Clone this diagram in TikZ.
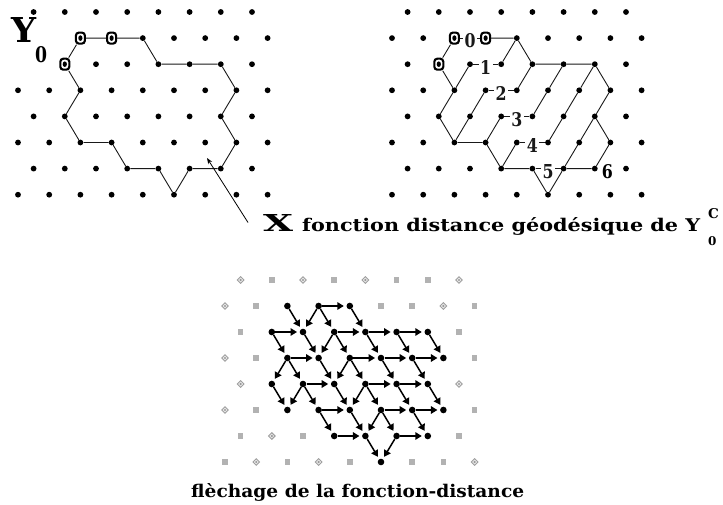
\documentclass[tikz,border=0pt]{standalone}
\usepackage{fontspec}
\setmainfont{DejaVu Serif}
\usepackage{graphicx}
\usetikzlibrary{arrows.meta,shapes.geometric}
\tikzset{
 dot/.style={circle, fill=black, inner sep=0pt, minimum size=5.8pt},
 bdot/.style={circle, fill=black, inner sep=0pt, minimum size=6.6pt},
 seed/.style={rectangle, rounded corners=3pt, draw=black, line width=2.1pt, fill=white, inner sep=0pt, minimum width=9pt, minimum height=11pt,
   path picture={\fill[black] (path picture bounding box.center) ellipse (2.1pt and 2.8pt);}},
 ptA/.style={diamond, draw=gray!75, line width=0.9pt, fill=gray!15, inner sep=0pt, minimum size=7pt,
   path picture={\fill[gray!80] (path picture bounding box.center) circle (1.2pt);}},
 ptB/.style={rectangle, fill=gray!60, inner sep=0pt, minimum size=5.5pt},
 edgeline/.style={line width=0.9pt, black!90},
 arr/.style={line width=1.5pt, -{Triangle[length=6.5pt,width=7.5pt]}, shorten >=2.5pt},
 lbl/.style={fill=white, inner xsep=1.5pt, inner ysep=0pt, yshift=-3pt},
}
\newcommand\dg[1]{\resizebox{11pt}{14pt}{\bfseries #1}}
\begin{document}
\begin{tikzpicture}[x=1pt,y=-1pt]
\useasboundingbox (0,0) rectangle (723,505);
% ---------------- panel 1 ----------------
\foreach \r in {0,2,4,6}{\foreach \c in {1,3,...,15}{
  \pgfmathtruncatemacro\hid{(\r==2)*(\c<4)}
  \ifnum\hid=0 \node[dot] (a-\r-\c) at ({18+15.6*\c},{12+26.1*\r}) {};\fi}}
\foreach \r in {1,3,5,7}{\foreach \c in {0,2,...,16}{
  \pgfmathtruncatemacro\hid{(\r==1)*(\c<7)}
  \ifnum\hid=0 \node[dot] (a-\r-\c) at ({18+15.6*\c},{12+26.1*\r}) {};\fi}}
\node[seed] (a-1-4) at ({18+15.6*4},{12+26.1}) {};
\node[seed] (a-1-6) at ({18+15.6*6},{12+26.1}) {};
\node[seed] (a-2-3) at ({18+15.6*3},{12+26.1*2}) {};
\draw[edgeline] (a-2-3) -- (a-1-4) -- (a-1-6) -- (a-1-8) -- (a-2-9) -- (a-2-11) -- (a-2-13)
  -- (a-3-14) -- (a-4-13) -- (a-5-14) -- (a-6-13) -- (a-6-11) -- (a-7-10) -- (a-6-9)
  -- (a-6-7) -- (a-5-6) -- (a-5-4) -- (a-4-3) -- (a-3-4) -- (a-2-3);
\node[anchor=base, inner sep=0pt] (ylab) at (24.5,43) {\resizebox{25pt}{25pt}{\bfseries Y}};
\node[anchor=base west, inner sep=0pt] (y0lab) at (35,63) {\resizebox{12pt}{16pt}{\bfseries 0}};
\node[anchor=base west, inner sep=0pt] (xlab) at (263,232) {\resizebox{30pt}{17pt}{\bfseries X}};
\coordinate (xtail) at (248,222.5);
\coordinate (xtip) at (207,158);
\draw[line width=0.8pt, -{Stealth[length=6pt,width=4.5pt]}] (xtail) -- (xtip);
% ---------------- panel 2 ----------------
\foreach \r in {0,2,4,6}{\foreach \c in {1,3,...,15}{
  \pgfmathtruncatemacro\hid{(\r==2)*(\c==3)}
  \ifnum\hid=0 \node[dot] (b-\r-\c) at ({392+15.6*\c},{12+26.1*\r}) {};\fi}}
\foreach \r in {1,3,5,7}{\foreach \c in {0,2,...,16}{
  \pgfmathtruncatemacro\hid{(\r==1)*((\c==4)+(\c==6))}
  \ifnum\hid=0 \node[dot] (b-\r-\c) at ({392+15.6*\c},{12+26.1*\r}) {};\fi}}
\node[seed] (b-1-4) at ({392+15.6*4},{12+26.1}) {};
\node[seed] (b-1-6) at ({392+15.6*6},{12+26.1}) {};
\node[seed] (b-2-3) at ({392+15.6*3},{12+26.1*2}) {};
\draw[edgeline] (b-2-3) -- (b-1-4);
\draw[edgeline] (b-1-6) -- (b-1-8) -- (b-2-9) -- (b-2-11) -- (b-2-13)
  -- (b-3-14) -- (b-4-13) -- (b-5-14) -- (b-6-13) -- (b-6-11) -- (b-7-10) -- (b-6-9)
  -- (b-6-7) -- (b-5-6) -- (b-5-4) -- (b-4-3) -- (b-3-4) -- (b-2-3);
\draw[edgeline] (b-1-4) -- node[lbl] (l0) {\dg{0}} (b-1-6);
\draw[edgeline] (b-1-8) -- (b-2-7);
\draw[edgeline] (b-2-5) -- node[lbl] (l1) {\dg{1}} (b-2-7);
\draw[edgeline] (b-2-5) -- (b-3-4);
\draw[edgeline] (b-2-9) -- (b-3-8);
\draw[edgeline] (b-3-6) -- node[lbl] (l2) {\dg{2}} (b-3-8);
\draw[edgeline] (b-3-6) -- (b-4-5) -- (b-5-4);
\draw[edgeline] (b-2-11) -- (b-3-10) -- (b-4-9);
\draw[edgeline] (b-4-7) -- node[lbl] (l3) {\dg{3}} (b-4-9);
\draw[edgeline] (b-4-7) -- (b-5-6);
\draw[edgeline] (b-2-13) -- (b-3-12) -- (b-4-11) -- (b-5-10);
\draw[edgeline] (b-5-8) -- node[lbl] (l4) {\dg{4}} (b-5-10);
\draw[edgeline] (b-5-8) -- (b-6-7);
\draw[edgeline] (b-4-13) -- (b-5-12) -- (b-6-11);
\draw[edgeline] (b-6-9) -- node[lbl] (l5) {\dg{5}} (b-6-11);
\node[lbl] (l6) at ({392+15.6*13.8},{12+26.1*6}) {\dg{6}};
\node[anchor=base west, inner sep=0pt] (cap1) at (302,232)
  {\fontsize{17.5}{20}\selectfont\bfseries\resizebox{398pt}{\height}{fonction distance géodésique de Y}};
\node[anchor=base west, inner sep=0pt] (capC) at (708,219) {\fontsize{13.5}{14}\selectfont\bfseries C};
\node[anchor=base west, inner sep=0pt] (cap0) at (708,246) {\fontsize{12}{13}\selectfont\bfseries 0};
% ---------------- panel 3 ----------------
\foreach \r/\c/\t in {0/1/A,0/3/B,0/5/A,0/7/B,0/9/A,0/11/B,0/13/B,0/15/A,
  1/0/A,1/2/B,1/10/B,1/12/B,1/14/A,1/16/B,
  2/1/B,2/15/B,
  3/0/A,3/2/B,3/16/B,
  4/1/A,4/15/A,
  5/0/A,5/2/B,5/16/B,
  6/1/B,6/3/A,6/5/B,6/15/B,
  7/0/B,7/2/A,7/4/B,7/6/A,7/8/B,7/12/B,7/14/B,7/16/A}
  {\node[pt\t] (p-\r-\c) at ({225+15.6*\c},{280+26*\r}) {};}
\foreach \r/\c in {1/4,1/6,1/8,
  2/3,2/5,2/7,2/9,2/11,2/13,
  3/4,3/6,3/8,3/10,3/12,3/14,
  4/3,4/5,4/7,4/9,4/11,4/13,
  5/4,5/6,5/8,5/10,5/12,5/14,
  6/7,6/9,6/11,6/13,
  7/10}
  {\node[bdot] (p-\r-\c) at ({225+15.6*\c},{280+26*\r}) {};}
\foreach \s/\t in {1-4/2-5,1-6/1-8,1-6/2-5,1-6/2-7,1-8/2-9,
  2-3/2-5,2-3/3-4,2-5/3-6,2-7/2-9,2-7/3-6,2-7/3-8,2-9/2-11,2-9/3-10,2-11/2-13,2-11/3-12,2-13/3-14,
  3-4/3-6,3-4/4-3,3-4/4-5,3-6/4-7,3-8/3-10,3-8/4-7,3-8/4-9,3-10/3-12,3-10/4-11,3-12/3-14,3-12/4-13,
  4-3/5-4,4-5/4-7,4-5/5-4,4-5/5-6,4-7/5-8,4-9/4-11,4-9/5-8,4-9/5-10,4-11/4-13,4-11/5-12,4-13/5-14,
  5-6/5-8,5-6/6-7,5-8/6-9,5-10/5-12,5-10/6-9,5-10/6-11,5-12/5-14,5-12/6-13,
  6-7/6-9,6-9/7-10,6-11/6-13,6-11/7-10}
  {\draw[arr] (p-\s) -- (p-\t);}
\node[anchor=base west, inner sep=0pt] (cap2) at (191,497)
  {\fontsize{17.5}{20}\selectfont\bfseries\resizebox{333pt}{\height}{flèchage de la fonction-distance}};
\end{tikzpicture}
\end{document}
